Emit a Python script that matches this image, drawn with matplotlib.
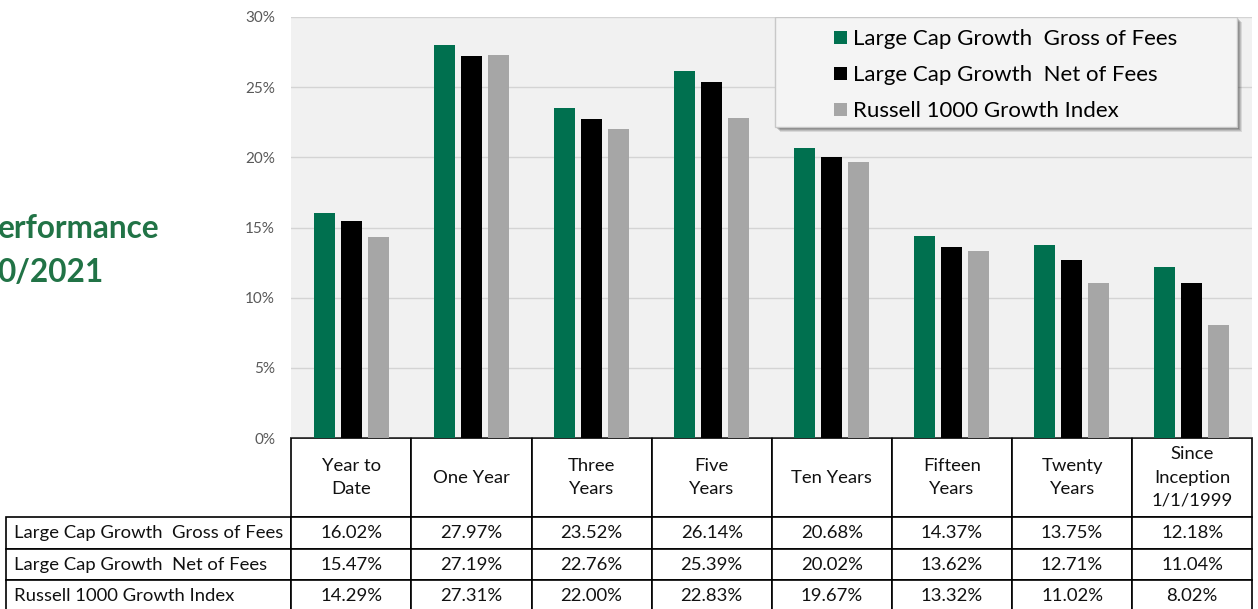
import numpy as np
import matplotlib.pyplot as plt
from matplotlib.patches import Rectangle

plt.rcParams['font.family'] = ['Lato', 'DejaVu Sans']

periods = ['Year to\nDate', 'One Year', 'Three\nYears', 'Five\nYears', 'Ten Years',
           'Fifteen\nYears', 'Twenty\nYears', 'Since\nInception\n1/1/1999']
series_names = ['Large Cap Growth  Gross of Fees',
                'Large Cap Growth  Net of Fees',
                'Russell 1000 Growth Index']
gross = [16.02, 27.97, 23.52, 26.14, 20.68, 14.37, 13.75, 12.18]
net = [15.47, 27.19, 22.76, 25.39, 20.02, 13.62, 12.71, 11.04]
russell = [14.29, 27.31, 22.00, 22.83, 19.67, 13.32, 11.02, 8.02]
colors = ['#00704f', '#000000', '#a6a6a6']

W, H = 1258, 609
fig = plt.figure(figsize=(W / 100, H / 100), dpi=100)
ax_l, ax_r, ax_t, ax_b = 291, 1252, 17, 438
aw, ah = ax_r - ax_l, ax_b - ax_t
ax = fig.add_axes([ax_l / W, (H - ax_b) / H, aw / W, ah / H])
ax.set_facecolor('#f1f1f1')

x = np.arange(len(periods))
width = 0.175
step = 0.225
for k, vals in enumerate([gross, net, russell]):
    ax.bar(x + (k - 1) * step, vals, width, color=colors[k], label=series_names[k], zorder=3)

ax.set_xlim(-0.5, len(periods) - 0.5)
ax.set_ylim(0, 30)
ax.set_yticks(np.arange(0, 31, 5))
ax.set_yticklabels([f'{v}%' for v in range(0, 31, 5)], fontsize=11, color='#595959')
ax.tick_params(axis='y', length=0, pad=11.5)
ax.set_xticks([])
ax.grid(axis='y', color='#d4d4d4', linewidth=1, zorder=0)
for s in ax.spines.values():
    s.set_visible(False)

# legend box with a soft shadow (pixel box 775..1237 x 17..127)
bx0, bx1, by0, by1 = 775, 1237, 17, 127
def px2ax(px, py):
    return (px - ax_l) / aw, (ax_b - py) / ah
for off, a in [(5, 0.10), (4, 0.12), (3, 0.15), (2, 0.18)]:
    sx, sy = px2ax(bx0 + off, by1 + off)
    ax.add_patch(Rectangle((sx, sy), (bx1 - bx0) / aw, (by1 - by0) / ah,
                           transform=ax.transAxes, facecolor='black', alpha=a,
                           edgecolor='none', zorder=4))
lx, ly = px2ax(bx0, by1)
ax.add_patch(Rectangle((lx, ly), (bx1 - bx0) / aw, (by1 - by0) / ah,
                       transform=ax.transAxes, facecolor='#f4f4f4',
                       edgecolor='#c8c8c8', linewidth=1, zorder=5))
leg = ax.legend(loc='upper left', bbox_to_anchor=px2ax(830, 25), fontsize=16,
                frameon=False, handlelength=0.55, handleheight=0.55,
                handletextpad=0.3, borderpad=0.2, labelspacing=0.72,
                borderaxespad=0.0)
leg.set_zorder(6)

# table under the plot; bbox covers the data grid only (row labels sit left of it,
# their column width comes from the text width and PAD)
cell_text = [[f'{v:.2f}%' for v in row] for row in (gross, net, russell)]
tbl = ax.table(cellText=cell_text, rowLabels=series_names, colLabels=periods,
               cellLoc='center', rowLoc='left',
               bbox=[0, -(612 - ax_b) / ah, 1, (612 - ax_b) / ah])
tbl.auto_set_font_size(False)
for (r, c), cell in tbl.get_celld().items():
    cell.set_linewidth(1.2)
    cell.set_edgecolor('black')
    cell.set_facecolor('white')
    cell.get_text().set_fontsize(13.3)
    cell.get_text().set_color('#111111')
    cell.set_width(120 / aw)
    cell.set_height((79 if r == 0 else 31.5) / ah)
    if r == 0:
        cell.get_text().set_linespacing(1.55)
    if c == -1:
        cell.PAD = 0.03

fig.text(-0.002, 1 - 228 / H, 'erformance', fontsize=22.7, fontweight='bold',
         color='#217346', ha='left', va='center')
fig.text(-0.002, 1 - 272 / H, '0/2021', fontsize=22.7, fontweight='bold',
         color='#217346', ha='left', va='center')

fig.savefig('out.png', dpi=100)
